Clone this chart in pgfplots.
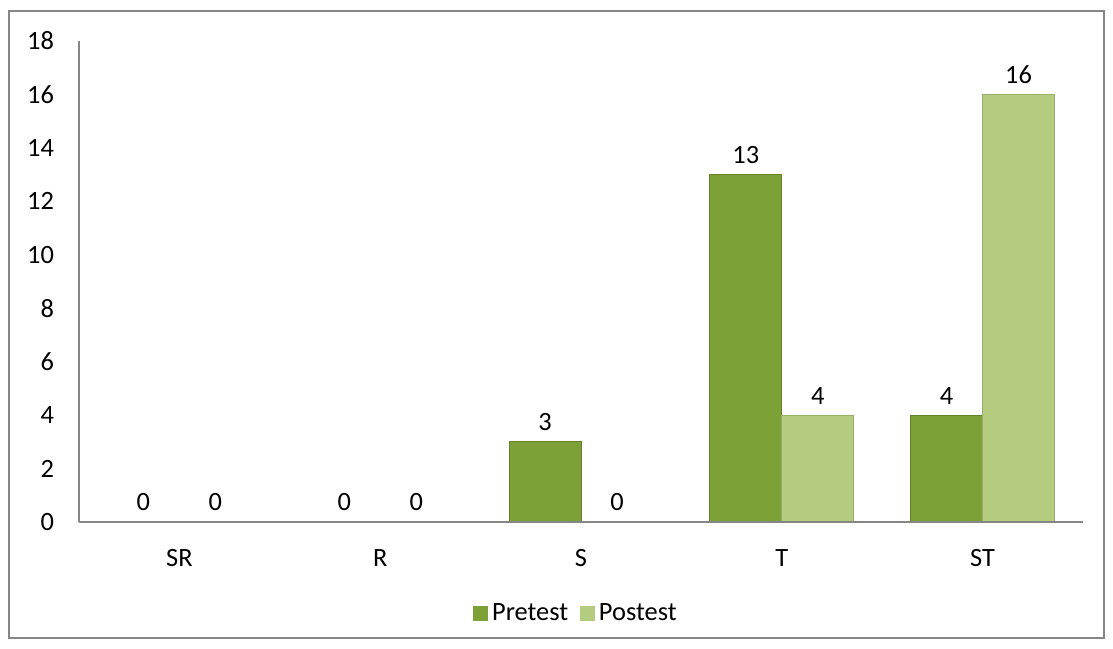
\documentclass[border=0pt]{standalone}
\usepackage{pgfplots}
\pgfplotsset{compat=1.18}
\usepackage{fontspec}
\setmainfont{Carlito}
\definecolor{pre}{RGB}{125,160,55}
\definecolor{preedge}{RGB}{100,130,42}
\definecolor{post}{RGB}{180,204,128}
\definecolor{postedge}{RGB}{150,175,105}
\definecolor{axgray}{RGB}{134,134,134}
\begin{document}
\begin{tikzpicture}
\useasboundingbox (-39.5pt,-63pt) rectangle (517pt,261pt);
\draw[axgray, line width=0.6pt] (-35pt,-58pt) rectangle (512.5pt,255.5pt);
\begin{axis}[
  at={(0pt,0pt)}, anchor=south west,
  scale only axis, width=502pt, height=240.5pt,
  ybar=0pt, bar width=36pt,
  xmin=-0.5, xmax=4.5, ymin=0, ymax=18,
  xtick={0,1,2,3,4}, xticklabels={SR,R,S,T,ST},
  ytick={0,2,...,18},
  axis on top,
  axis x line*=bottom, axis y line*=left,
  axis line style={axgray, line width=1pt},
  major tick length=0pt,
  tick style={draw=none},
  /pgf/number format/assume math mode=true,
  tick label style={font=\fontsize{13.2}{16}\selectfont},
  yticklabel style={xshift=-9pt},
  xticklabel style={yshift=-10pt},
  nodes near coords,
  nodes near coords style={font=\fontsize{13.2}{16}\selectfont, yshift=2pt},
  legend style={at={(rel axis cs:0.496,-0.19)}, anchor=center, draw=none,
    legend columns=2, font=\fontsize{13.2}{16}\selectfont,
    /tikz/every even column/.append style={column sep=4pt}},
  legend image code/.code={\draw[#1, draw=none] (0cm,-0.13cm) rectangle (0.26cm,0.13cm);},
]
\addplot[fill=pre, draw=preedge] coordinates {(0,0) (1,0) (2,3) (3,13) (4,4)};
\addplot[fill=post, draw=postedge] coordinates {(0,0) (1,0) (2,0) (3,4) (4,16)};
\legend{Pretest, Postest}
\end{axis}
\end{tikzpicture}
\end{document}
